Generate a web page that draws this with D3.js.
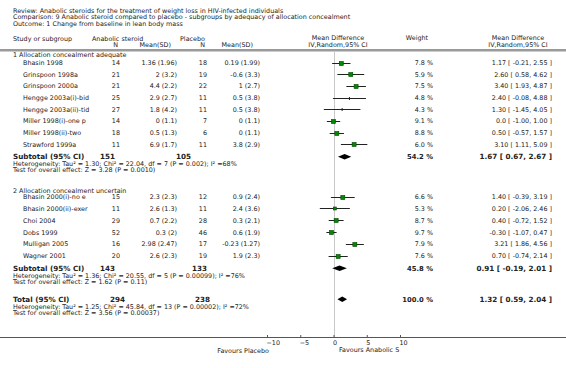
<!DOCTYPE html>
<html lang="en">
<head>
<meta charset="UTF-8">
<title>Forest plot - lean body mass</title>
<script src="https://d3js.org/d3.v7.min.js"></script>
<style>
  body { margin: 0; background: #fff; }
  svg text { font-family: "DejaVu Sans", sans-serif; fill: #222; }
</style>
</head>
<body>
<svg id="forest"></svg>
<script>
// ---- data ----
const titleLines = [
  "Review:  Anabolic steroids for the treatment of weight loss in HIV-infected individuals",
  "Comparison:  9 Anabolic steroid compared to placebo - subgroups by adequacy of allocation concealment",
  "Outcome:  1 Change from baseline in lean body mass"
];
const groupNames = ["1 Allocation concealment adequate", "2 Allocation concealment uncertain"];

const studies = [
  "Bhasin 1998", "Grinspoon 1998a", "Grinspoon 2000a", "Hengge 2003a(i)-bid",
  "Hengge 2003a(ii)-tid", "Miller 1998(i)-one p", "Miller 1998(ii)-two", "Strawford 1999a",
  "Bhasin 2000(i)-no e", "Bhasin 2000(ii)-exer", "Choi 2004", "Dobs 1999", "Mulligan 2005", "Wagner 2001"
];
const studyGroup = [0, 0, 0, 0, 0, 0, 0, 0, 1, 1, 1, 1, 1, 1];
const expN    = [14, 21, 21, 25, 27, 14, 18, 11, 15, 11, 29, 52, 16, 20];
const expMean = [1.36, 2, 4.4, 2.9, 1.8, 0, 0.5, 6.9, 2.3, 2.6, 0.7, 0.3, 2.98, 2.6];
const expSD   = [1.96, 3.2, 2.2, 2.7, 4.2, 1.1, 1.3, 1.7, 2.3, 1.3, 2.2, 2, 2.47, 2.3];
const ctlN    = [18, 19, 22, 11, 11, 7, 6, 11, 12, 11, 28, 46, 17, 19];
const ctlMean = [0.19, -0.6, 1, 0.5, 0.5, 0, 0, 3.8, 0.9, 2.4, 0.3, 0.6, -0.23, 1.9];
const ctlSD   = [1.99, 3.3, 2.7, 3.8, 3.8, 1.1, 1.1, 2.9, 2.4, 3.6, 2.1, 1.9, 1.27, 2.3];
const weights = [7.8, 5.9, 7.5, 4.8, 4.3, 9.1, 8.8, 6.0, 6.6, 5.3, 8.7, 9.7, 7.9, 7.6];
const md      = [1.17, 2.60, 3.40, 2.40, 1.30, 0.0, 0.50, 3.10, 1.40, 0.20, 0.40, -0.30, 3.21, 0.70];
const ciLow   = [-0.21, 0.58, 1.93, -0.08, -1.45, -1.00, -0.57, 1.11, -0.39, -2.06, -0.72, -1.07, 1.86, -0.74];
const ciHigh  = [2.55, 4.62, 4.87, 4.88, 4.05, 1.00, 1.57, 5.09, 3.19, 2.46, 1.52, 0.47, 4.56, 2.14];

const summaryLabels = ["Subtotal (95% CI)", "Subtotal (95% CI)", "Total (95% CI)"];
const summaryExpN   = [151, 143, 294];
const summaryCtlN   = [105, 133, 238];
const summaryWeight = [54.2, 45.8, 100.0];
const summaryMD     = [1.67, 0.91, 1.32];
const summaryLow    = [0.67, -0.19, 0.59];
const summaryHigh   = [2.67, 2.01, 2.04];
const heterogeneity = [
  "Heterogeneity: Tau\u00b2 = 1.30; Chi\u00b2 = 22.04, df = 7 (P = 0.002); I\u00b2 =68%",
  "Heterogeneity: Tau\u00b2 = 1.36; Chi\u00b2 = 20.55, df = 5 (P = 0.00099); I\u00b2 =76%",
  "Heterogeneity: Tau\u00b2 = 1.25; Chi\u00b2 = 45.84, df = 13 (P = 0.00002); I\u00b2 =72%"
];
const overallTest = [
  "Test for overall effect: Z = 3.28 (P = 0.0010)",
  "Test for overall effect: Z = 1.62 (P = 0.11)",
  "Test for overall effect: Z = 3.56 (P = 0.00037)"
];
const axisTicks = [-10, -5, 0, 5, 10];
const favours = ["Favours Placebo", "Favours Anabolic S"];

// ---- layout ----
const W = 566, H = 368;
const FS = 6.4;
const groupHeaderY = [55, 190.5];
const groupFirstRowY = [62.5, 196.5];
const rowStep = [11.7, 11.9];
const summaryY = [156.7, 268.3, 299.3];
const summaryNx = [[100, 176], [100, 192], [110, 195]];
const axisY = 337;
const col = { name: 23, group: 13, expN: 120, expMean: 177, ctlN: 207, ctlMean: 260, weight: 433, effect: 552 };

const svg = d3.select("#forest").attr("width", W).attr("height", H);

const x = d3.scaleLinear().domain([-10, 10]).range([267, 400]);
const boxSize = d3.scaleLinear().domain([4.9, 5.5]).range([1, 4]).clamp(true);

const fmtMD = v => v === 0 ? "0.0" : v.toFixed(2);
const effectText = (m, l, h) => `${fmtMD(m)} [ ${l.toFixed(2)}, ${h.toFixed(2)} ]`;

function txt(str, xx, yy, anchor, size, bold) {
  return svg.append("text")
    .attr("x", xx).attr("y", yy)
    .attr("text-anchor", anchor || "start")
    .style("font-size", (size || FS) + "px")
    .style("font-weight", bold ? "bold" : "normal")
    .text(str);
}

// titles
titleLines.forEach((t, i) => txt(t, 13, 12.6 + i * 6.6));

// column headers
txt("Study or subgroup", 13, 40.8);
txt("Anabolic steroid", 92, 40.8);
txt("Placebo", 180, 40.8);
txt("N", col.expN - 2, 47, "end");
txt("Mean(SD)", 171, 47, "end");
txt("N", col.ctlN - 2, 47, "end");
txt("Mean(SD)", 253, 47, "end");
txt("Mean Difference", 338, 39.5, "middle");
txt("IV,Random,95% CI", 338, 46.5, "middle");
txt("Weight", 417, 39.5, "middle");
txt("Mean Difference", 518, 39.5, "middle");
txt("IV,Random,95% CI", 518, 46.5, "middle");

svg.append("rect").attr("x", 0).attr("y", 49).attr("width", W).attr("height", 2.5).attr("fill", "#9a9a9a");

// zero line
svg.append("line")
  .attr("x1", Math.round(x(0)) + 0.5).attr("x2", Math.round(x(0)) + 0.5)
  .attr("y1", 51.5).attr("y2", axisY)
  .attr("stroke", "#c8c8c8");

// group headers
groupNames.forEach((g, i) => txt(g, col.group, groupHeaderY[i] + 2.3));

// study rows
const counter = [0, 0];
const rows = studies.map((s, i) => {
  const g = studyGroup[i];
  const y = groupFirstRowY[g] + counter[g]++ * rowStep[g];
  return { i, y };
});

rows.forEach(({ i, y }) => {
  const b = y + 2.3;
  txt(studies[i], col.name, b);
  txt(expN[i], col.expN, b, "end");
  txt(`${expMean[i]} (${expSD[i]})`, col.expMean, b, "end");
  txt(ctlN[i], col.ctlN, b, "end");
  txt(`${ctlMean[i]} (${ctlSD[i]})`, col.ctlMean, b, "end");
  txt(weights[i].toFixed(1) + " %", col.weight, b, "end");
  txt(effectText(md[i], ciLow[i], ciHigh[i]), col.effect, b, "end");
});

const marks = svg.append("g");
marks.selectAll("line.ci").data(rows).enter().append("line")
  .attr("class", "ci")
  .attr("x1", d => x(ciLow[d.i])).attr("x2", d => x(ciHigh[d.i]))
  .attr("y1", d => Math.round(d.y) + 0.5).attr("y2", d => Math.round(d.y) + 0.5)
  .attr("stroke", "#222").attr("stroke-width", 1);
marks.selectAll("rect.box").data(rows).enter().append("rect")
  .attr("class", "box")
  .attr("x", d => x(md[d.i]) - boxSize(weights[d.i]) / 2)
  .attr("y", d => Math.round(d.y) + 0.5 - Math.max(boxSize(weights[d.i]), 3) / 2)
  .attr("width", d => boxSize(weights[d.i]))
  .attr("height", d => Math.max(boxSize(weights[d.i]), 3))
  .attr("fill", d => boxSize(weights[d.i]) > 1.5 ? "#008a00" : "#222")
  .attr("stroke", d => boxSize(weights[d.i]) > 1.5 ? "#004400" : "none")
  .attr("stroke-width", 0.6);

// summaries
summaryLabels.forEach((lab, k) => {
  const y = summaryY[k];
  const b = y + 2.7;
  txt(lab, 13, b, "start", 7.2, true);
  txt(summaryExpN[k], summaryNx[k][0], b, "start", 7.2, true);
  txt(summaryCtlN[k], summaryNx[k][1], b, "start", 7.2, true);
  txt(summaryWeight[k].toFixed(1) + " %", col.weight, b, "end", 6.8, true);
  txt(effectText(summaryMD[k], summaryLow[k], summaryHigh[k]), col.effect, b, "end", 7.2, true);
  txt(heterogeneity[k], 13, y + 9.7);
  txt(overallTest[k], 13, y + 15.5);

  const h = 2.8;
  marks.append("path")
    .attr("d", `M${x(summaryLow[k])},${y} L${x(summaryMD[k])},${y - h} L${x(summaryHigh[k])},${y} L${x(summaryMD[k])},${y + h} Z`)
    .attr("fill", "#000");
});

// axis
svg.append("line").attr("x1", 0).attr("x2", W).attr("y1", axisY + 0.5).attr("y2", axisY + 0.5)
  .attr("stroke", "#555");
const ax = svg.append("g")
  .attr("transform", `translate(0,${axisY})`)
  .call(d3.axisBottom(x).tickValues(axisTicks).tickSize(-2).tickPadding(3));
ax.select(".domain").remove();
ax.selectAll(".tick line").attr("stroke", "#555");
ax.selectAll("text")
  .attr("text-anchor", "start")
  .attr("x", -1)
  .style("font-size", FS + "px")
  .style("font-family", "DejaVu Sans, sans-serif")
  .attr("fill", "#222");

txt(favours[0], 269, 352.5, "end");
txt(favours[1], 339, 351.5, "start");
</script>
</body>
</html>
